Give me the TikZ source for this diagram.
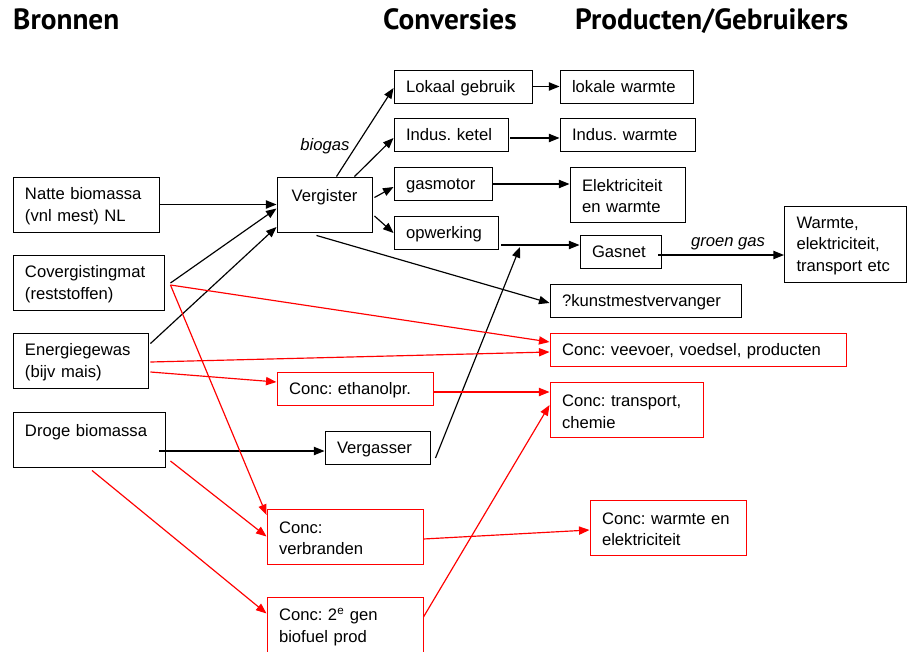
\documentclass[tikz,border=0pt]{standalone}
\usepackage{fontspec}
\setmainfont{Liberation Sans}
\newfontfamily\headfont{PT Sans}
\usetikzlibrary{arrows.meta,calc}
\frenchspacing
\hyphenpenalty=10000
\exhyphenpenalty=10000

\begin{document}
\begin{tikzpicture}[
	x=0.03cm, y=-0.03cm,
	every node/.style={font=\fontsize{14.2}{18.5}\selectfont},
	box/.style={draw, line width=0.8pt, rectangle, align=left, inner xsep=0.36cm, inner ysep=0pt, text width=#1,
		execute at begin node={\rule[-3.3pt]{0pt}{16pt}}},
	conc/.style={box=#1, draw=red},
	one/.style={minimum height=0.99cm},
	two/.style={minimum height=1.65cm},
	head/.style={font=\headfont\bfseries\fontsize{25}{29}\selectfont, anchor=base west, inner sep=0pt},
	lbl/.style={font=\itshape\fontsize{14.2}{18}\selectfont, inner sep=0pt},
	arr/.style={-{Triangle[length=9pt,width=7pt]}, line width=1pt},
	redarr/.style={arr, red}
	]

		\useasboundingbox (0,0) rectangle (907,652);

		% Headings
		\node[head] (hbron) at (13,30) {Bronnen};
		\node[head] (hconv) at (383,30) {Conversies};
		\node[head] (hprod) at (575,30) {Producten/Gebruikers};

		% Bronnen
		\node[box=3.66cm, two] (natte) at (86,204.5) {Natte biomassa\\(vnl mest) NL};
		\node[box=3.81cm, two] (cover) at (88.5,282.5) {Covergistingmat\\(reststoffen)};
		\node[box=3.33cm, two] (energie) at (80.5,360.5) {Energiegewas\\(bijv mais)};
		\node[box=3.84cm, two] (droge) at (89,439.5) {Droge biomassa\\~};

		% Conversies
		\node[box=2.13cm, two, align=center] (vergister) at (324.5,204.5) {Vergister\\~};
		\node[box=3.42cm, one] (lokaal) at (463,86.5) {Lokaal gebruik};
		\node[box=2.70cm, one] (ketel) at (451,135) {Indus. ketel};
		\node[box=2.22cm, one] (gasmotor) at (443,184) {gasmotor};
		\node[box=2.40cm, one] (opwerking) at (446,233) {opwerking};
		\node[box=2.43cm, one] (vergasser) at (377.5,448) {Vergasser};
		\node[conc=3.96cm, one] (ethanol) at (355,389) {Conc: ethanolpr.};
		\node[conc=3.96cm, two] (verbranden) at (345,536.5) {Conc:\\verbranden};
		\node[conc=3.96cm, minimum height=1.72cm] (gen2) at (345,626) {Conc: 2\textsuperscript{e} gen\\biofuel prod};

		% Producten/Gebruikers
		\node[box=3.27cm, one] (lokwarm) at (626.5,86.5) {lokale warmte};
		\node[box=3.33cm, one] (induswarm) at (627.5,135) {Indus. warmte};
		\node[box=2.73cm, two] (elek) at (627.5,194.5) {Elektriciteit\\en warmte};
		\node[box=1.71cm, one] (gasnet) at (620.5,252) {Gasnet};
		\node[box=2.94cm, minimum height=2.28cm] (warmte) at (845.5,244) {Warmte,\\elektriciteit,\\transport etc};
		\node[box=5.01cm, one] (kunstmest) at (645.5,301) {?kunstmestvervanger};
		\node[conc=8.16cm, one] (veevoer) at (698,350) {Conc: veevoer, voedsel, producten};
		\node[conc=3.87cm, two] (transport) at (626.5,410) {Conc: transport,\\chemie};
		\node[conc=3.96cm, two] (warmteel) at (668,527.5) {Conc: warmte en\\elektriciteit};

		\coordinate (jn) at (520,247);

		% Labels
		\node[lbl] (biogas) at (325,146) {biogas};
		\node[lbl] (groen) at (728,244) {groen gas};

		% Black arrows
		\draw[arr] (natte.east) -- (vergister.west);
		\draw[arr] ($(cover.east)+(6,0.5)$) -- ($(vergister.west)+(0,4)$);
		\draw[arr] ($(energie.east)+(2,-17)$) -- ($(vergister.west)+(0,22.5)$);
		\draw[arr] ($(vergister.north)+(12,0)$) -- ($(lokaal.west)+(0,1.5)$);
		\draw[arr] ($(vergister.north)+(30,0)$) -- ($(ketel.west)+(0,3)$);
		\draw[arr] ($(vergister.east)+(2,-7)$) -- ($(gasmotor.west)+(0,3)$);
		\draw[arr] ($(vergister.east)+(2,11.5)$) -- (opwerking.west);
		\draw[arr] ($(vergister.south)+(-8,3)$) -- ($(kunstmest.west)+(0,2)$);
		\draw[arr] (lokaal.east) -- (lokwarm.west);
		\draw[arr] ($(ketel.east)+(2,3)$) -- ($(induswarm.west)+(0,3)$);
		\draw[arr] (gasmotor.east) -- ($(elek.west)+(0,-10.5)$);
		\draw[arr] ($(opwerking.east)+(3,12)$) -- ($(gasnet.west)+(0,-7)$);
		\draw[arr] ($(vergasser.east)+(5,10)$) -- (jn);
		\draw[arr] ($(gasnet.east)+(-3,3)$) -- ($(warmte.west)+(0,11)$);
		\draw[arr] ($(droge.east)+(-6,11.5)$) -- ($(vergasser.west)+(0,3)$);

		% Red arrows
		\draw[redarr] ($(cover.east)+(6,2.5)$) -- ($(veevoer.west)+(0,-8)$);
		\draw[redarr] ($(cover.east)+(6,2.5)$) -- ($(verbranden.west)+(0,-21.5)$);
		\draw[redarr] ($(energie.east)+(2,1.5)$) -- ($(veevoer.west)+(0,2)$);
		\draw[redarr] ($(energie.east)+(2,11.5)$) -- ($(ethanol.west)+(0,-7)$);
		\draw[redarr] ($(ethanol.east)+(0,3)$) -- ($(transport.west)+(0,-18)$);
		\draw[redarr] ($(droge.east)+(5,21.5)$) -- (verbranden.west);
		\draw[redarr] ($(droge.south)+(3,3)$) -- ($(gen2.west)+(0,-12.5)$);
		\draw[redarr] ($(verbranden.east)+(0,2.5)$) -- ($(warmteel.west)+(0,2.5)$);
		\draw[redarr] ($(gen2.east)+(0,-9)$) -- ($(transport.west)+(0,-5)$);
	\end{tikzpicture}
\end{document}
